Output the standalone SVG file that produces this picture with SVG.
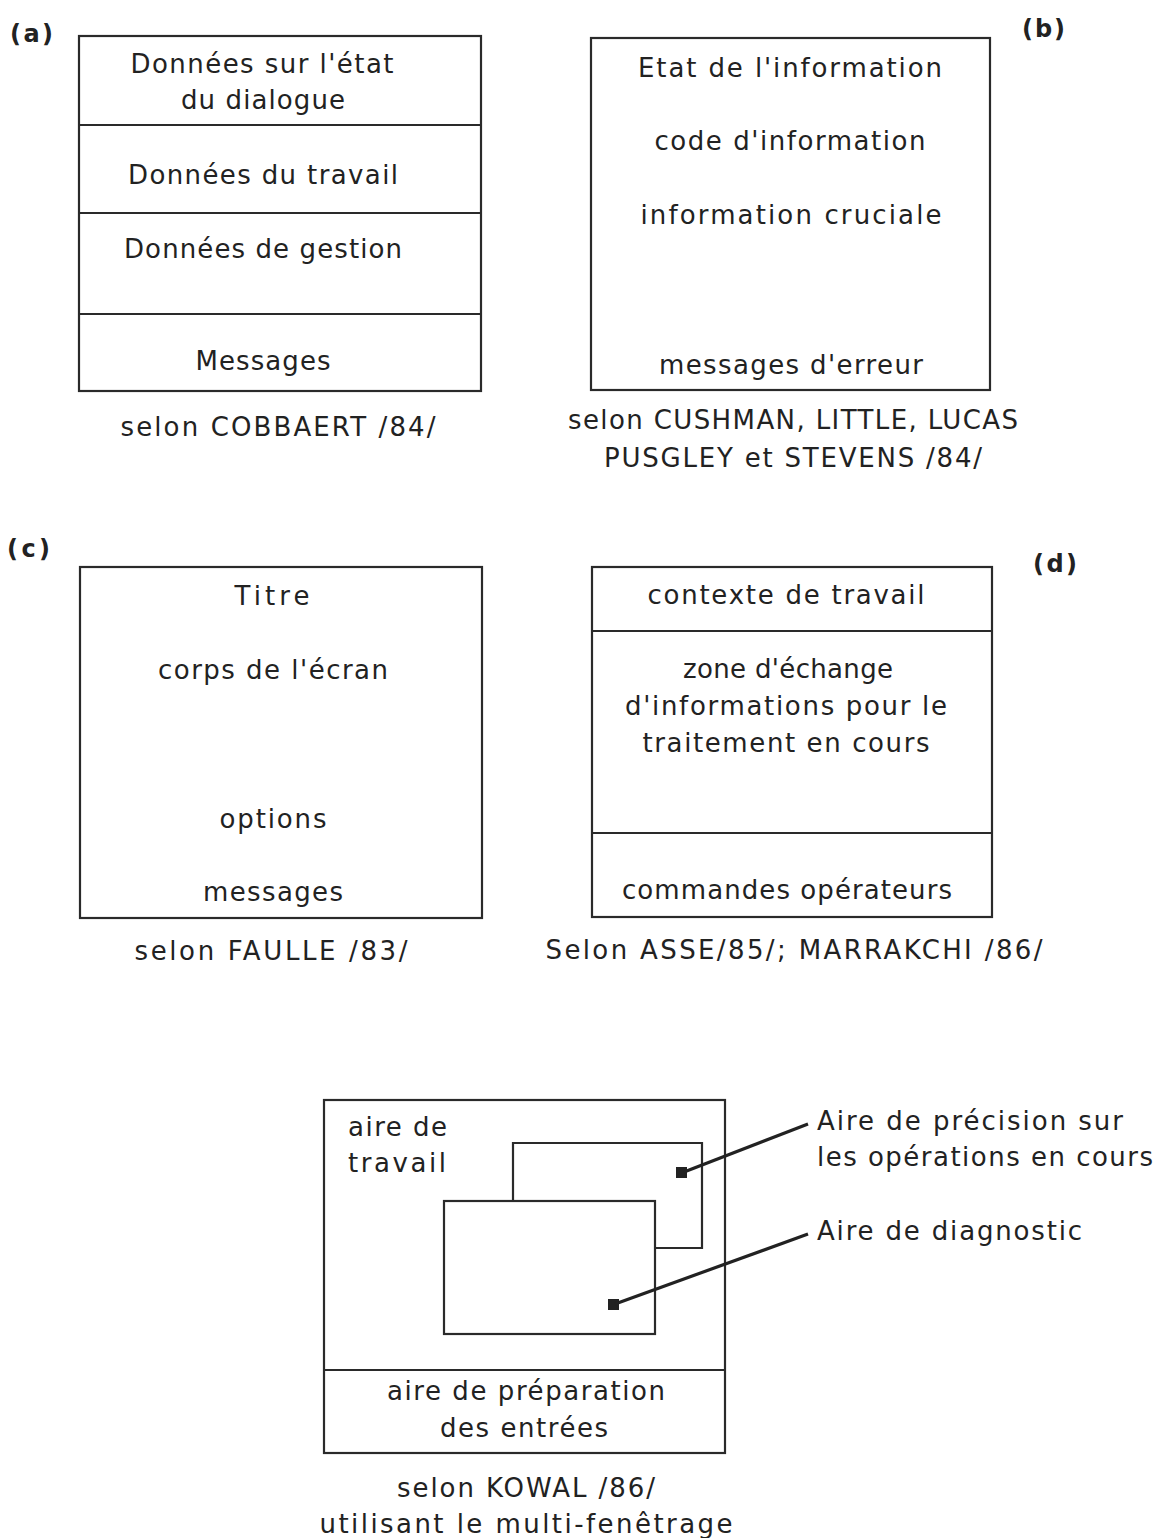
<svg xmlns="http://www.w3.org/2000/svg" width="1158" height="1538" viewBox="0 0 1158 1538">
<style>
.bg{fill:#ffffff}
.box{fill:none;stroke:#2a2a2a;stroke-width:2.2}
.ln{fill:none;stroke:#2a2a2a;stroke-width:2.2}
.t{font-family:"DejaVu Sans","Liberation Sans",sans-serif;font-size:26px;fill:#222;text-anchor:middle}
.tl{font-family:"DejaVu Sans","Liberation Sans",sans-serif;font-size:26px;fill:#222;text-anchor:start}
.lab{font-family:"DejaVu Sans","Liberation Sans",sans-serif;font-weight:bold;font-size:24px;fill:#222}
.lead{fill:none;stroke:#222;stroke-width:3.2}
.dot{fill:#222}
</style>
<rect class="bg" x="0" y="0" width="1158" height="1538"/>

<g id="panel-a">
  <text class="lab" x="10" y="42" textLength="43" lengthAdjust="spacing">(a)</text>
  <rect class="box" x="79" y="36" width="402" height="355"/>
  <line class="ln" x1="79" y1="125" x2="481" y2="125"/>
  <line class="ln" x1="79" y1="213" x2="481" y2="213"/>
  <line class="ln" x1="79" y1="314" x2="481" y2="314"/>
  <text class="t" x="262" y="73" textLength="263" lengthAdjust="spacing">Données sur l'état</text>
  <text class="t" x="263" y="109" textLength="164" lengthAdjust="spacing">du dialogue</text>
  <text class="t" x="263" y="184" textLength="270" lengthAdjust="spacing">Données du travail</text>
  <text class="t" x="263" y="258" textLength="278" lengthAdjust="spacing">Données de gestion</text>
  <text class="t" x="263" y="370" textLength="135" lengthAdjust="spacing">Messages</text>
  <text class="t" x="278" y="436" textLength="315" lengthAdjust="spacing">selon COBBAERT /84/</text>
</g>

<g id="panel-b">
  <text class="lab" x="1022" y="37" textLength="43" lengthAdjust="spacing">(b)</text>
  <rect class="box" x="591" y="38" width="399" height="352"/>
  <text class="t" x="790" y="77" textLength="304" lengthAdjust="spacing">Etat de l'information</text>
  <text class="t" x="790" y="150" textLength="271" lengthAdjust="spacing">code d'information</text>
  <text class="t" x="791" y="224" textLength="301" lengthAdjust="spacing">information cruciale</text>
  <text class="t" x="791" y="374" textLength="264" lengthAdjust="spacing">messages d'erreur</text>
  <text class="t" x="793" y="429" textLength="450" lengthAdjust="spacing">selon CUSHMAN, LITTLE, LUCAS</text>
  <text class="t" x="793" y="467" textLength="378" lengthAdjust="spacing">PUSGLEY et STEVENS /84/</text>
</g>

<g id="panel-c">
  <text class="lab" x="7" y="557" textLength="43" lengthAdjust="spacing">(c)</text>
  <rect class="box" x="80" y="567" width="402" height="351"/>
  <text class="t" x="272" y="605" textLength="75" lengthAdjust="spacing">Titre</text>
  <text class="t" x="273" y="679" textLength="230" lengthAdjust="spacing">corps de l'écran</text>
  <text class="t" x="273" y="828" textLength="107" lengthAdjust="spacing">options</text>
  <text class="t" x="273" y="901" textLength="140" lengthAdjust="spacing">messages</text>
  <text class="t" x="271" y="960" textLength="273" lengthAdjust="spacing">selon FAULLE /83/</text>
</g>

<g id="panel-d">
  <text class="lab" x="1033" y="572" textLength="44" lengthAdjust="spacing">(d)</text>
  <rect class="box" x="592" y="567" width="400" height="350"/>
  <line class="ln" x1="592" y1="631" x2="992" y2="631"/>
  <line class="ln" x1="592" y1="833" x2="992" y2="833"/>
  <text class="t" x="786" y="604" textLength="277" lengthAdjust="spacing">contexte de travail</text>
  <text class="t" x="788" y="678" textLength="210" lengthAdjust="spacing">zone d'échange</text>
  <text class="t" x="786" y="715" textLength="322" lengthAdjust="spacing">d'informations pour le</text>
  <text class="t" x="786" y="752" textLength="287" lengthAdjust="spacing">traitement en cours</text>
  <text class="t" x="787" y="899" textLength="330" lengthAdjust="spacing">commandes opérateurs</text>
  <text class="t" x="794" y="959" textLength="497" lengthAdjust="spacing">Selon ASSE/85/; MARRAKCHI /86/</text>
</g>

<g id="panel-e">
  <rect class="box" x="324" y="1100" width="401" height="353"/>
  <line class="ln" x1="324" y1="1370" x2="725" y2="1370"/>
  <text class="tl" x="348" y="1136" textLength="99" lengthAdjust="spacing">aire de</text>
  <text class="tl" x="348" y="1172" textLength="98" lengthAdjust="spacing">travail</text>
  <text class="t" x="526" y="1400" textLength="278" lengthAdjust="spacing">aire de préparation</text>
  <text class="t" x="524" y="1437" textLength="168" lengthAdjust="spacing">des entrées</text>
  <text class="t" x="526" y="1497" textLength="258" lengthAdjust="spacing">selon KOWAL /86/</text>
  <text class="t" x="526" y="1533" textLength="413" lengthAdjust="spacing">utilisant le multi-fenêtrage</text>
</g>

<g id="window-precision">
  <path class="ln" d="M513,1201 V1143 H702 V1248 H655"/>
  <rect class="dot" x="676" y="1167" width="11" height="11"/>
  <text class="tl" x="817" y="1130" textLength="306" lengthAdjust="spacing">Aire de précision sur</text>
  <text class="tl" x="817" y="1166" textLength="336" lengthAdjust="spacing">les opérations en cours</text>
</g>

<g id="window-diagnostic">
  <rect class="box" x="444" y="1201" width="211" height="133"/>
  <rect class="dot" x="608" y="1299" width="11" height="11"/>
  <text class="tl" x="817" y="1240" textLength="265" lengthAdjust="spacing">Aire de diagnostic</text>
</g>

<g id="connectors">
  <line class="lead" x1="684" y1="1172" x2="808" y2="1124"/>
  <line class="lead" x1="615" y1="1304" x2="808" y2="1234"/>
</g>
</svg>
